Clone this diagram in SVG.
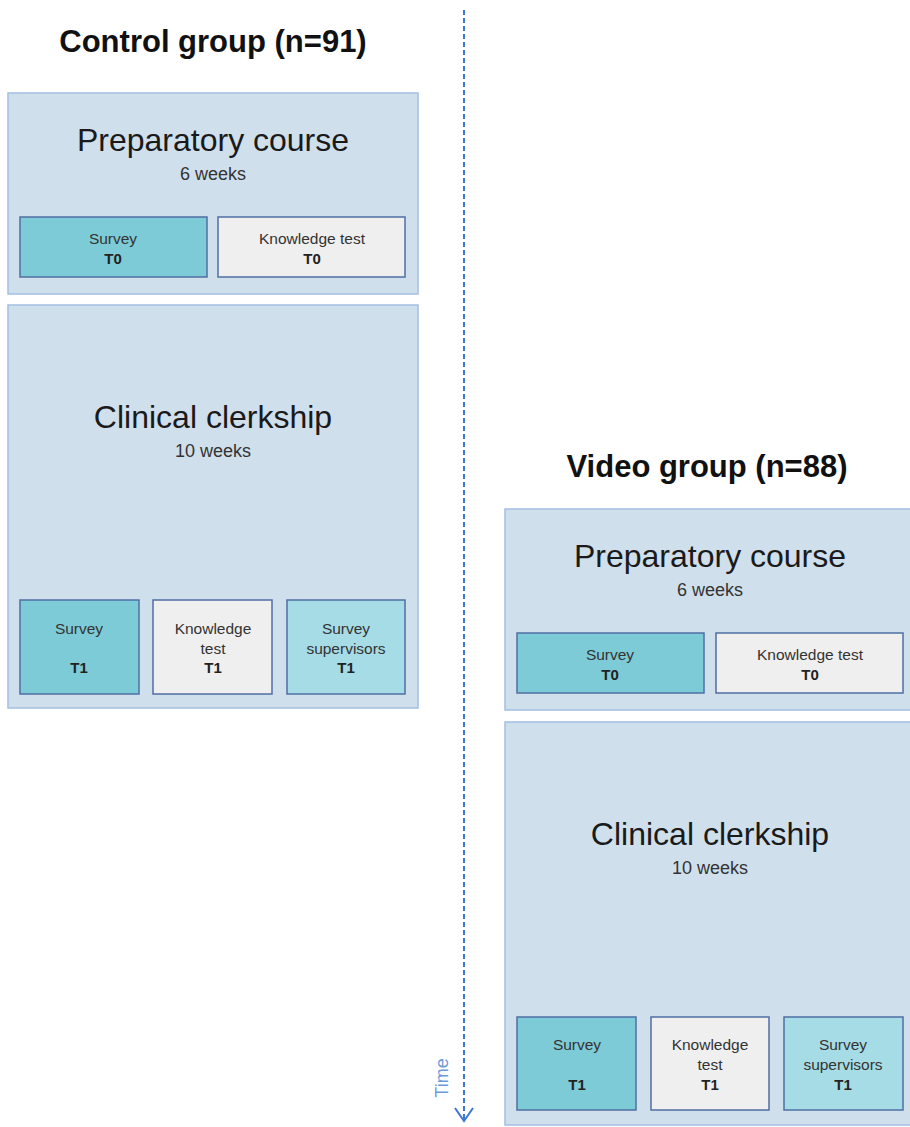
<svg xmlns="http://www.w3.org/2000/svg" width="910" height="1127" viewBox="0 0 910 1127">
<style>
.bg{fill:#ffffff}
.phase{fill:#cfdfec;stroke:#a3c0e2;stroke-width:1.5}
.sv{fill:#7ecbd8;stroke:#4f6fa3;stroke-width:1.5}
.kt{fill:#efefef;stroke:#4f6fa3;stroke-width:1.5}
.ss{fill:#a6dce5;stroke:#4f6fa3;stroke-width:1.5}
.title{font-family:"Liberation Sans",Arial,sans-serif;font-weight:bold;font-size:31px;fill:#111;text-anchor:middle}
.big{font-family:"Liberation Sans",Arial,sans-serif;font-size:32px;fill:#1a1a1a;text-anchor:middle}
.sub{font-family:"Liberation Sans",Arial,sans-serif;font-size:18px;fill:#333;text-anchor:middle}
.sm{font-family:"Liberation Sans",Arial,sans-serif;font-size:15.5px;fill:#333;text-anchor:middle}
.smb{font-family:"Liberation Sans",Arial,sans-serif;font-size:15px;font-weight:bold;fill:#222;text-anchor:middle}
.time{font-family:"Liberation Sans",Arial,sans-serif;font-size:18px;fill:#6a9ad8;text-anchor:middle}
</style>
<defs>
<marker id="arr" markerWidth="16" markerHeight="20" refX="14" refY="10" orient="auto" markerUnits="userSpaceOnUse" viewBox="0 0 16 20">
<path d="M1,1 L14,10 L1,19" fill="none" stroke="#3a78d4" stroke-width="2"/>
</marker>
</defs>
<rect class="bg" x="0" y="0" width="910" height="1127"/>

<g id="connectors">
<line x1="464" y1="10" x2="464" y2="1121" stroke="#3a78d4" stroke-width="2" stroke-dasharray="5,3" marker-end="url(#arr)"/>
<text class="time" transform="translate(448,1078) rotate(-90)">Time</text>
</g>

<g id="control-title"><text class="title" x="213" y="52">Control group (n=91)</text></g>

<g id="control-prep">
<rect class="phase" x="8" y="93" width="410" height="201"/>
<text class="big" x="213" y="151">Preparatory course</text>
<text class="sub" x="213" y="180">6 weeks</text>
</g>
<g id="control-survey-t0">
<rect class="sv" x="20" y="217" width="187" height="60"/>
<text class="sm" x="113" y="244">Survey</text>
<text class="smb" x="113" y="264">T0</text>
</g>
<g id="control-knowledge-t0">
<rect class="kt" x="218" y="217" width="187" height="60"/>
<text class="sm" x="312" y="244">Knowledge test</text>
<text class="smb" x="312" y="264">T0</text>
</g>

<g id="control-clerkship">
<rect class="phase" x="8" y="305" width="410" height="403"/>
<text class="big" x="213" y="428">Clinical clerkship</text>
<text class="sub" x="213" y="457">10 weeks</text>
</g>
<g id="control-survey-t1">
<rect class="sv" x="20" y="600" width="119" height="94"/>
<text class="sm" x="79" y="634">Survey</text>
<text class="smb" x="79" y="673">T1</text>
</g>
<g id="control-knowledge-t1">
<rect class="kt" x="153" y="600" width="119" height="94"/>
<text class="sm" x="213" y="634">Knowledge</text>
<text class="sm" x="213" y="654">test</text>
<text class="smb" x="213" y="673">T1</text>
</g>
<g id="control-supervisors-t1">
<rect class="ss" x="287" y="600" width="118" height="94"/>
<text class="sm" x="346" y="634">Survey</text>
<text class="sm" x="346" y="654">supervisors</text>
<text class="smb" x="346" y="673">T1</text>
</g>

<g id="video-title"><text class="title" x="707" y="477">Video group (n=88)</text></g>

<g id="video-prep">
<rect class="phase" x="505" y="509" width="410" height="201"/>
<text class="big" x="710" y="567">Preparatory course</text>
<text class="sub" x="710" y="596">6 weeks</text>
</g>
<g id="video-survey-t0">
<rect class="sv" x="517" y="633" width="187" height="60"/>
<text class="sm" x="610" y="660">Survey</text>
<text class="smb" x="610" y="680">T0</text>
</g>
<g id="video-knowledge-t0">
<rect class="kt" x="716" y="633" width="187" height="60"/>
<text class="sm" x="810" y="660">Knowledge test</text>
<text class="smb" x="810" y="680">T0</text>
</g>

<g id="video-clerkship">
<rect class="phase" x="505" y="722" width="410" height="403"/>
<text class="big" x="710" y="845">Clinical clerkship</text>
<text class="sub" x="710" y="874">10 weeks</text>
</g>
<g id="video-survey-t1">
<rect class="sv" x="517" y="1017" width="119" height="93"/>
<text class="sm" x="577" y="1050">Survey</text>
<text class="smb" x="577" y="1090">T1</text>
</g>
<g id="video-knowledge-t1">
<rect class="kt" x="651" y="1017" width="118" height="93"/>
<text class="sm" x="710" y="1050">Knowledge</text>
<text class="sm" x="710" y="1070">test</text>
<text class="smb" x="710" y="1090">T1</text>
</g>
<g id="video-supervisors-t1">
<rect class="ss" x="784" y="1017" width="119" height="93"/>
<text class="sm" x="843" y="1050">Survey</text>
<text class="sm" x="843" y="1070">supervisors</text>
<text class="smb" x="843" y="1090">T1</text>
</g>
</svg>
